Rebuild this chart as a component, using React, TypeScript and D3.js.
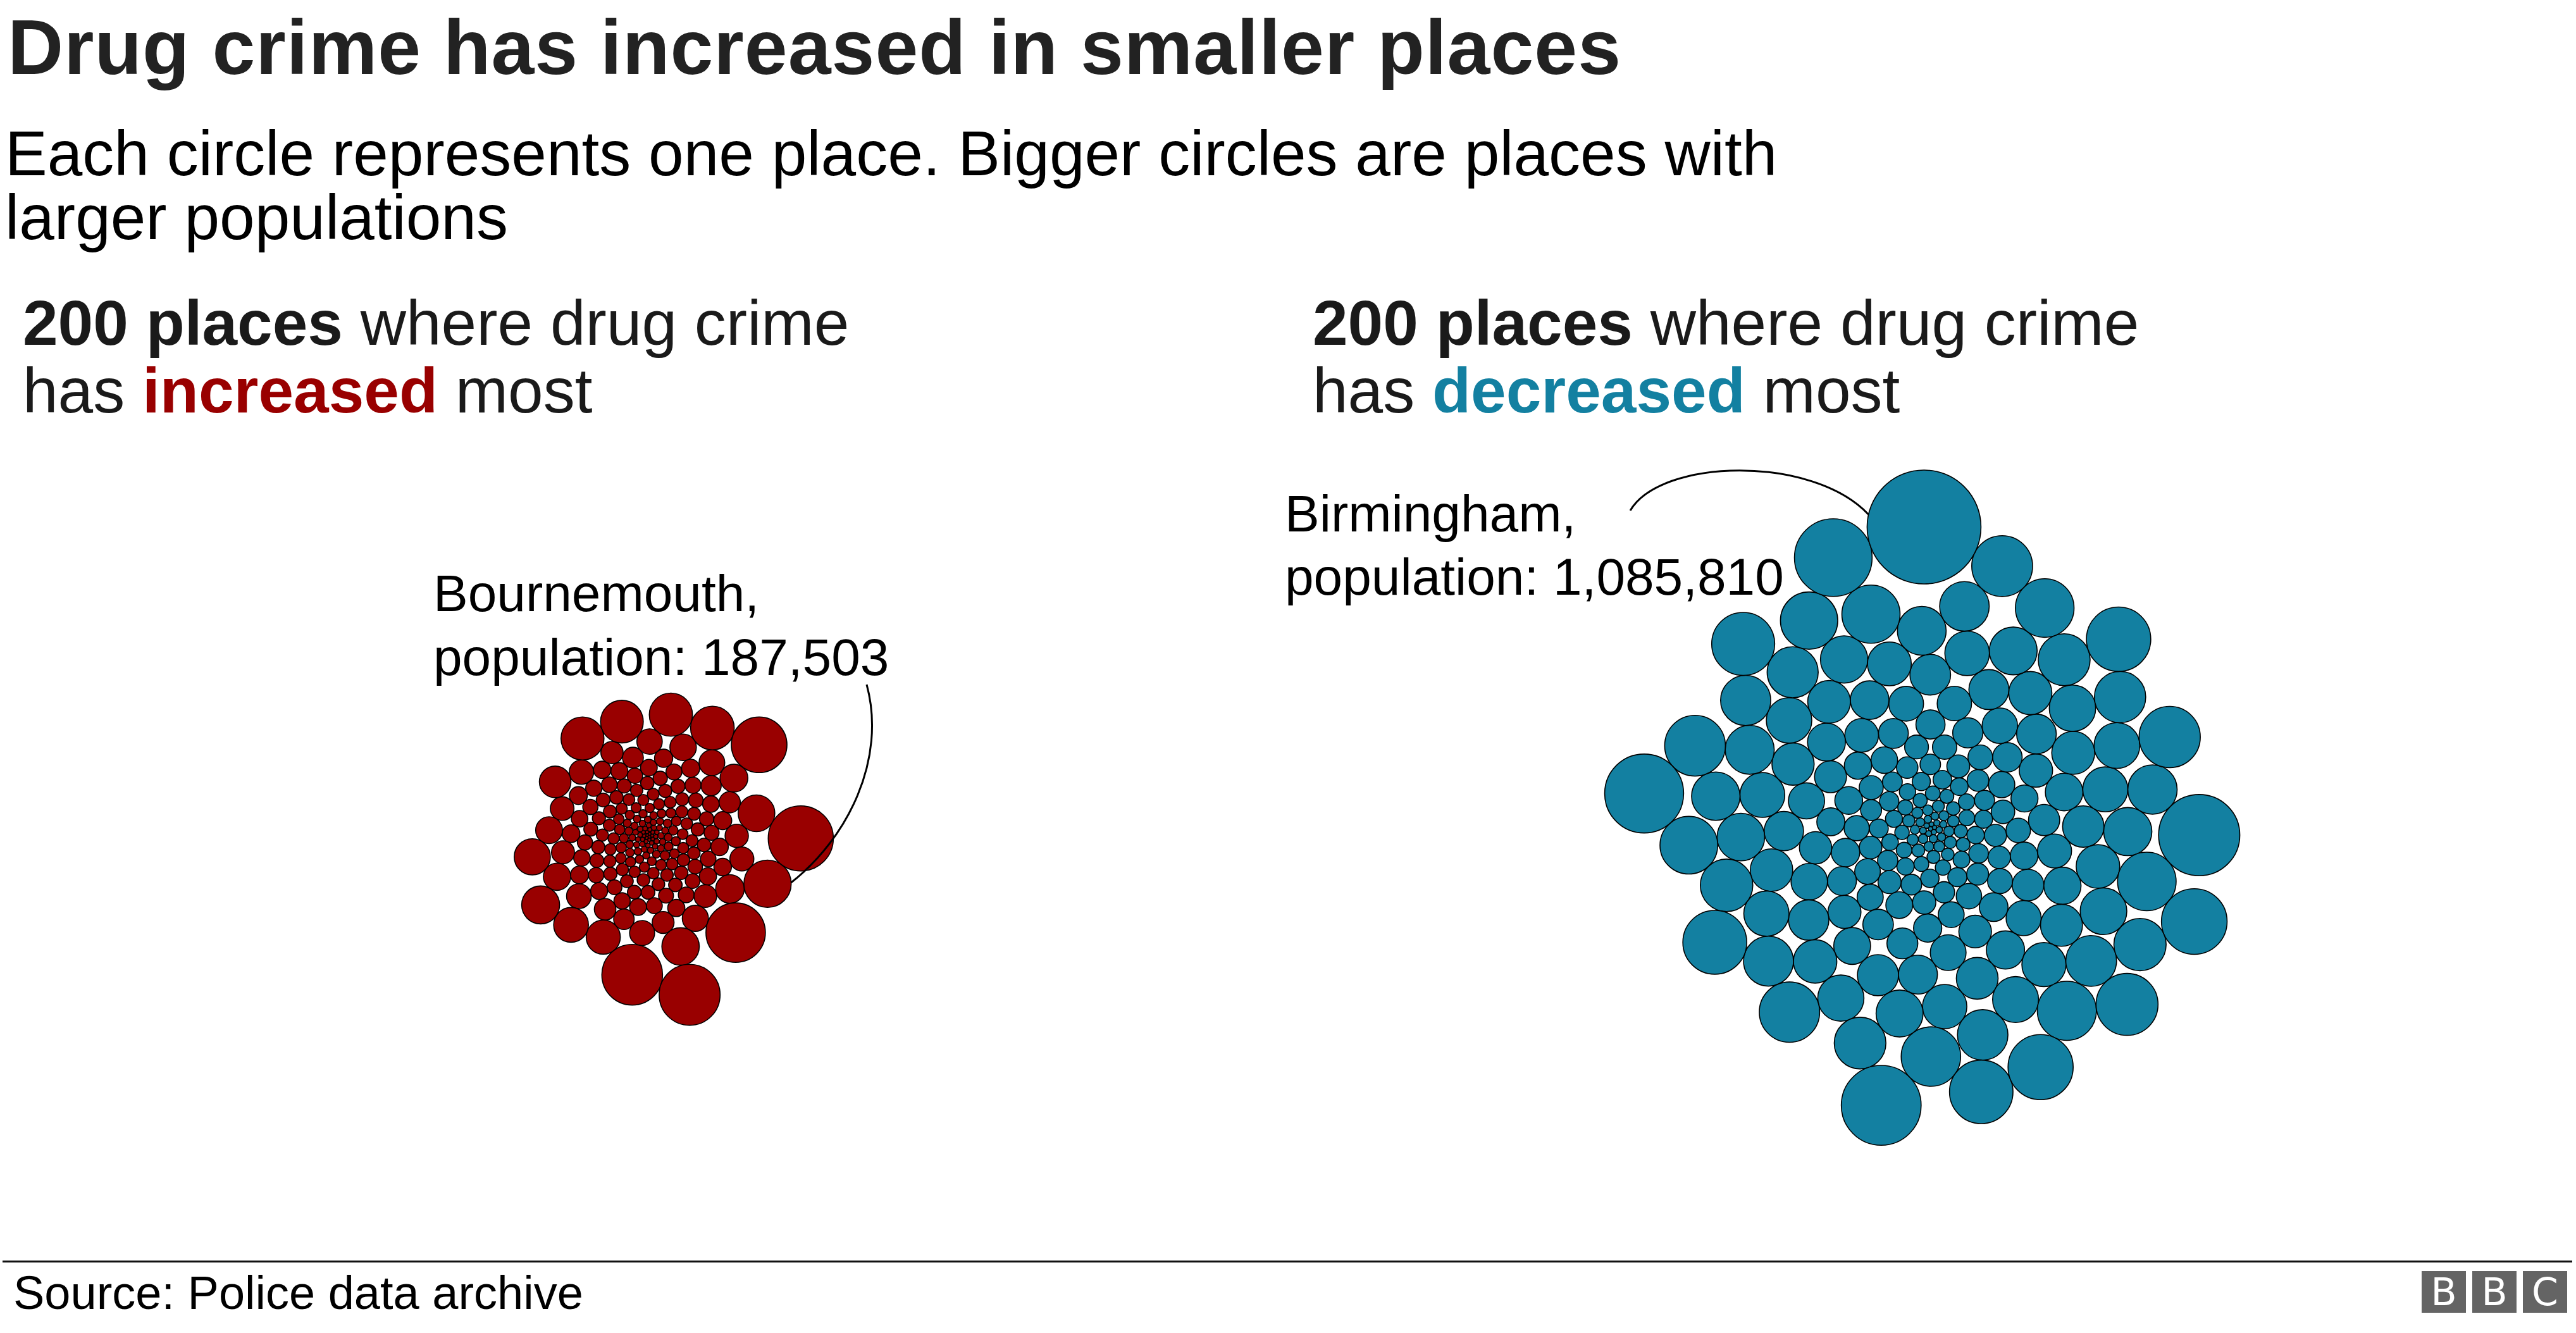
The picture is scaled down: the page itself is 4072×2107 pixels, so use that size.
import React from "react";
import * as d3 from "d3";

// ---------- text ----------
const TITLE = "Drug crime has increased in smaller places";
const SUBTITLE_LINES = [
  "Each circle represents one place. Bigger circles are places with",
  "larger populations",
];
const SOURCE = "Source: Police data archive";
const LABEL_INCREASED = { name: "Bournemouth,", pop: 187503 };
const LABEL_DECREASED = { name: "Birmingham,", pop: 1085810 };

// ---------- data: populations of the 200 places (sorted ascending) ----------
const increasedPopulations = [
  606, 653, 753, 812, 873, 927, 989, 1052, 1118, 1179, 1254, 1317, 1394, 1470, 1546, 1624, 1701, 1783, 1870, 1953,
  2041, 2131, 2223, 2316, 2412, 2509, 2609, 2710, 2813, 2919, 3025, 3135, 3246, 3359, 3473, 3590, 3709, 3829, 3952, 4077,
  4203, 4331, 4461, 4594, 4728, 4864, 5002, 5142, 5283, 5427, 5573, 5720, 5870, 6021, 6175, 6330, 6487, 6646, 6808, 6971,
  7136, 7302, 7471, 7642, 7815, 7990, 8166, 8345, 8525, 8708, 8891, 9078, 9266, 9456, 9648, 9842, 10038, 10236, 10435, 10637,
  10759, 10881, 11004, 11150, 11274, 11400, 11547, 11674, 11802, 11930, 12081, 12210, 12342, 12494, 12627, 12760, 12893, 13027, 13185, 13320,
  13457, 13617, 13755, 13893, 14032, 14172, 14337, 14478, 14620, 14787, 14931, 15075, 15220, 15366, 15537, 15684, 15832, 16006, 16155, 16305,
  16557, 16811, 17066, 17324, 17584, 17845, 18108, 18374, 18641, 18910, 19182, 19454, 19729, 20006, 20285, 20565, 20848, 21133, 21419, 21708,
  21998, 22290, 22585, 22881, 23180, 23479, 23782, 24085, 24391, 24699, 25008, 25320, 25633, 25950, 26267, 26586, 26907, 27230, 27556, 27883,
  34089, 35282, 36496, 37728, 38983, 40257, 41552, 42867, 44203, 45560, 46937, 48334, 49753, 51191, 52651, 54130, 55630, 57151, 58692, 60253,
  62367, 65061, 68369,
  83750, 97686, 101338, 109606, 112694, 117405, 120600, 152870, 154904, 156010, 159494, 187503, 259424, 296006, 308736, 311200, 355402,
];

const decreasedPopulations = [
  1396, 1645, 1915, 2205, 2516, 2848, 3199, 3572, 3965, 4378, 4813, 5267, 5581, 6070, 6579, 7109, 7473, 8037, 8424, 9022,
  9432, 9852, 10280, 10939, 11390,
  11850, 12319, 12798, 13286, 13782, 14288, 14803, 15326, 15859, 16402, 16953, 17513, 18083, 18662, 19249, 19846, 20452, 21067, 21691, 22324,
  22967, 23618, 24279, 24948, 25628, 26315, 27012, 27719, 28434, 29158, 29892, 30635, 31386, 32147, 32917,
  33697, 34485, 35282, 36088, 36904, 37728, 38562, 39405, 40257, 41118, 41988, 42867, 43755, 44653, 45560, 46475, 47400, 48334, 49278, 50230,
  51191, 52162, 53141, 54130, 55128, 56135, 57151, 58176, 59210, 60253, 61305, 62367, 63438, 64518, 65606, 66705, 67811, 68927, 70053, 71188,
  72906, 74645, 76406, 78186, 79987, 81807, 83649, 85512, 87394, 89298, 91221, 93166, 95130, 97116, 99122, 101147, 103194, 105261, 107350, 109458,
  111586, 113736, 115906, 118096, 120307, 122539, 124790, 127062, 129355, 131668, 134003, 136356, 138731, 141126, 143543,
  145979, 147614, 149259, 150913, 152576, 154248, 155929, 157620, 159319, 161027, 162745, 164472, 166207, 167952, 169707, 171470, 173242, 175024, 176814, 178613,
  180422, 182240,
  184984, 186825, 189603, 191466, 194278, 196165, 199011, 200920, 203800, 205732, 208647, 210601, 213550, 215528, 218510, 220510, 223528, 225551, 228602, 230648,
  274980, 278634, 283544, 287254, 287900, 292239, 296006, 304889, 308736, 309850, 313903, 321734, 332325, 337685, 341734, 347169, 355402, 360944,
  505175, 521764, 533536, 552300, 1085810,
];

const FONT = "'Liberation Sans', Arial, Helvetica, sans-serif";
const RED = "#990000";
const BLUE = "#1380A1";

type Node = { r: number; pop: number; x: number; y: number };

function layoutCluster(
  pops: number[],
  rScale: (v: number) => number,
  highlightPop: number,
  cx: number,
  cy: number,
  targetDeg: number,
  flip: boolean
) {
  const nodes: Node[] = pops.map((p) => ({ r: rScale(p), pop: p, x: 0, y: 0 }));
  d3.packSiblings(nodes as any);
  const o = nodes[0];
  const rel = nodes.map((n) => ({ dx: n.x - o.x, dy: flip ? -(n.y - o.y) : n.y - o.y }));
  const hi = pops.indexOf(highlightPop);
  const ang = Math.atan2(rel[hi].dy, rel[hi].dx);
  const rot = (targetDeg * Math.PI) / 180 - ang;
  const c = Math.cos(rot), s = Math.sin(rot);
  const out = nodes.map((n, i) => ({
    r: n.r,
    pop: n.pop,
    x: cx + rel[i].dx * c - rel[i].dy * s,
    y: cy + rel[i].dx * s + rel[i].dy * c,
  }));
  return { nodes: out, hi: out[hi] };
}

export default function App() {
  const maxPop = d3.max(decreasedPopulations) as number;
  const rScale = d3.scaleSqrt().domain([0, maxPop]).range([0, 90]);

  const inc = layoutCluster(increasedPopulations, rScale, LABEL_INCREASED.pop, 1023, 1320, 22, true);
  const dec = layoutCluster(decreasedPopulations, rScale, LABEL_DECREASED.pop, 3058, 1308, -92, false);

  const fmt = d3.format(",");

  // leader lines
  const b = inc.hi;
  const bEnd = [b.x + b.r * Math.cos(-0.05), b.y + b.r * Math.sin(-0.05)];
  const bPath = `M1370,1082 C1402,1200 1340,${bEnd[1] - 70} ${bEnd[0]},${bEnd[1]}`;
  const m = dec.hi;
  const th = Math.atan2(-19, -84);
  const mEnd = [m.x + m.r * Math.cos(th), m.y + m.r * Math.sin(th)];
  const mPath = `M2577,807 C2625,725 ${mEnd[0] - 90},${mEnd[1] - 95} ${mEnd[0]},${mEnd[1]}`;

  const headingFill = "#1a1a1a";

  return (
    <svg
      width={4072}
      height={2107}
      viewBox="0 0 4072 2107"
      style={{ position: "absolute", left: 0, top: 0, display: "block", background: "#fff" }}
      fontFamily={FONT}
    >
      <rect x={0} y={0} width={4072} height={2107} fill="#fff" />
      {/* title */}
      <text x={12} y={117} fontSize={122} fontWeight="bold" fill="#222" letterSpacing={1}>
        {TITLE}
      </text>
      {SUBTITLE_LINES.map((t, i) => (
        <text key={i} x={8} y={277 + i * 101} fontSize={100} fill="#000">
          {t}
        </text>
      ))}

      {/* headings */}
      {[
        { x: 36, word: "increased", color: RED },
        { x: 2075, word: "decreased", color: BLUE },
      ].map((h, i) => (
        <g key={i} fill={headingFill} fontSize={100}>
          <text x={h.x} y={545}>
            <tspan fontWeight="bold">200 places</tspan>
            <tspan> where drug crime</tspan>
          </text>
          <text x={h.x} y={652}>
            <tspan>has </tspan>
            <tspan fontWeight="bold" fill={h.color}>{h.word}</tspan>
            <tspan> most</tspan>
          </text>
        </g>
      ))}

      {/* clusters */}
      <g>
        {inc.nodes.map((n, i) => (
          <circle key={i} cx={n.x} cy={n.y} r={n.r} fill={RED} stroke="#000" strokeWidth={1.6} />
        ))}
      </g>
      <g>
        {dec.nodes.map((n, i) => (
          <circle key={i} cx={n.x} cy={n.y} r={n.r} fill={BLUE} stroke="#000" strokeWidth={1.6} />
        ))}
      </g>

      {/* annotations */}
      <g fontSize={82} fill="#000">
        <text x={685} y={966}>{LABEL_INCREASED.name}</text>
        <text x={685} y={1067}>{`population: ${fmt(LABEL_INCREASED.pop)}`}</text>
        <text x={2031} y={840}>{LABEL_DECREASED.name}</text>
        <text x={2031} y={940}>{`population: ${fmt(LABEL_DECREASED.pop)}`}</text>
      </g>
      <path d={bPath} fill="none" stroke="#000" strokeWidth={3} />
      <path d={mPath} fill="none" stroke="#000" strokeWidth={3} />

      {/* footer */}
      <line x1={4} x2={4066} y1={1994} y2={1994} stroke="#111" strokeWidth={3} />
      <text x={21} y={2069} fontSize={74} fill="#000">
        {SOURCE}
      </text>
      {["B", "B", "C"].map((l, i) => (
        <g key={i}>
          <rect x={3828 + i * 80} y={2009} width={70} height={66} fill="#646464" />
          <text
            x={3828 + i * 80 + 35}
            y={2063}
            fontSize={60}
            fill="#fff"
            textAnchor="middle"
            fontFamily="'DejaVu Sans', sans-serif"
          >
            {l}
          </text>
        </g>
      ))}
    </svg>
  );
}
